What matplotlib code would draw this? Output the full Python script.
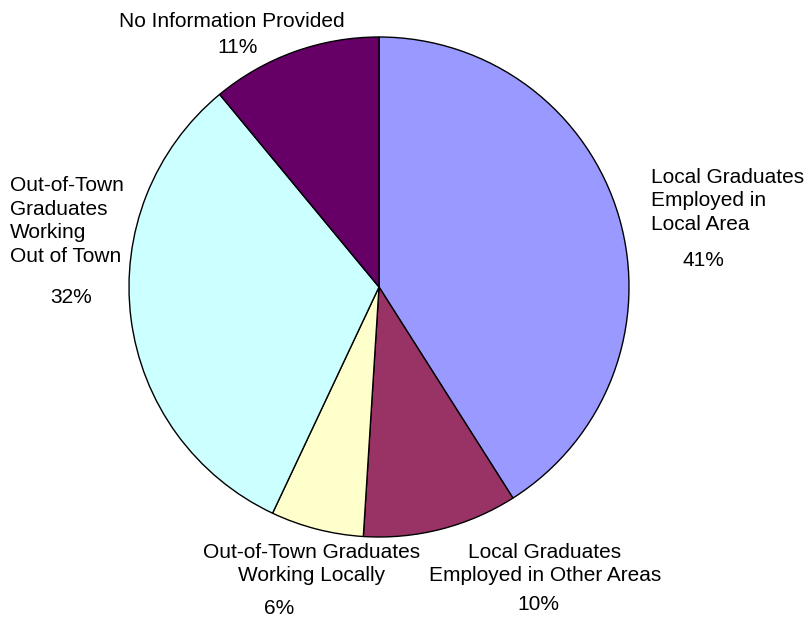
import matplotlib.pyplot as plt

plt.rcParams['font.family'] = ['Liberation Sans', 'DejaVu Sans']

# slice data, clockwise from 12 o'clock
categories = ["Local Graduates\nEmployed in\nLocal Area",
              "Local Graduates\nEmployed in Other Areas",
              "Out-of-Town Graduates\nWorking Locally",
              "Out-of-Town\nGraduates\nWorking\nOut of Town",
              "No Information Provided"]
shares = [41, 10, 6, 32, 11]
colours = ["#9999FF", "#993366", "#FFFFCC", "#CCFFFF", "#660066"]

W, H = 808, 621
CX, CY, R = 379, 287, 250


def px(x, y):
    # pixel position (from top-left) -> data coords of the pie
    return (x - CX) / R, (CY - y) / R


fig = plt.figure(figsize=(W / 100, H / 100), dpi=100)
ax = fig.add_axes([0, 0, 1, 1])
ax.pie(shares, colors=colours, startangle=90, counterclock=False,
       wedgeprops={'edgecolor': 'black', 'linewidth': 1.0})
ax.set_xlim(-CX / R, (W - CX) / R)
ax.set_ylim(-(H - CY) / R, CY / R)
ax.axis('off')

fs = 15
# (name pos, name align, pct pos)
label_layout = [
    ((651, 201), 'left', (703, 261)),
    ((545, 564), 'center', (538, 605)),
    ((312, 564), 'center', (279, 609)),
    ((10, 221), 'left', (71, 298)),
    ((232, 22), 'center', (238, 48)),
]

for name, val, (npos, ha, ppos) in zip(categories, shares, label_layout):
    ax.text(*px(*npos), name, ha=ha, va='center', fontsize=fs,
            multialignment='left' if ha == 'left' else 'center', linespacing=1.3)
    ax.text(*px(*ppos), f"{val}%", ha='center', va='center', fontsize=fs)

fig.savefig("out.png", dpi=100)
